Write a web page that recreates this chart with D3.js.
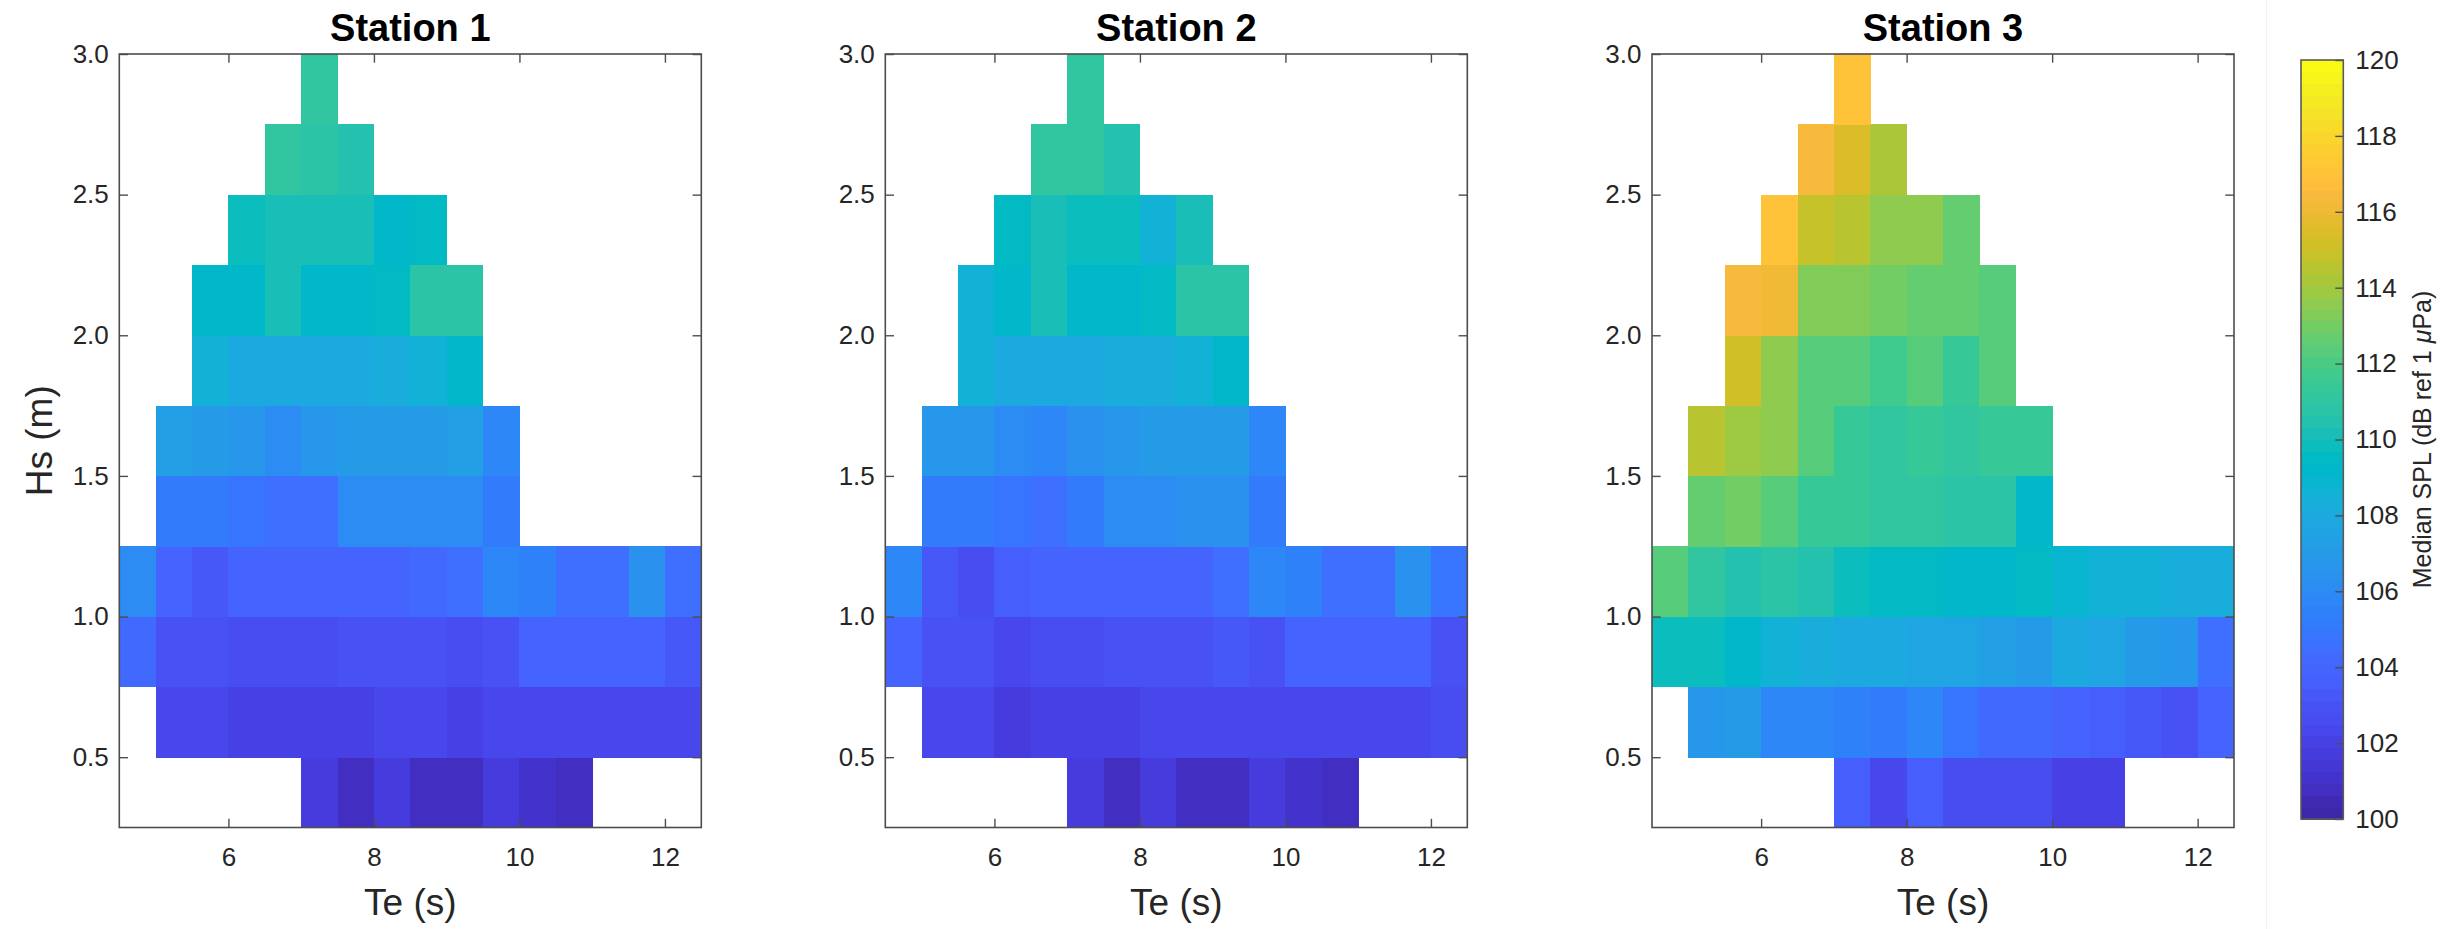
<!DOCTYPE html>
<html>
<head>
<meta charset="utf-8">
<script src="https://cdnjs.cloudflare.com/ajax/libs/d3/7.8.5/d3.min.js"></script>
<style>
body { margin: 0; background: #fff; }
text { font-family: "Liberation Sans", Arial, Helvetica, sans-serif; fill: #262626; }
</style>
</head>
<body>
<script>

// Lower edges of the bins
var teBins = [4.5, 5.0, 5.5, 6.0, 6.5, 7.0, 7.5, 8.0, 8.5, 9.0, 9.5, 10.0, 10.5, 11.0, 11.5, 12.0];
var hsBins = [0.25, 0.5, 0.75, 1.0, 1.25, 1.5, 1.75, 2.0, 2.25, 2.5, 2.75];
var teStep = 0.5;
var hsStep = 0.25;

var teTicks = [6, 8, 10, 12];
var hsTicks = [0.5, 1.0, 1.5, 2.0, 2.5, 3.0];
var cbTicks = [100, 102, 104, 106, 108, 110, 112, 114, 116, 118, 120];

var titles = ["Station 1", "Station 2", "Station 3"];

// Median SPL per cell, rows go up in Hs (0.25-0.5 first), columns follow teBins
var station1 = [
    [null, null, null, null, null, 101.6, 100.9, 101.7, 100.8, 100.8, 101.7, 101.2, 100.9, null, null, null],
    [null, 102.2, 102.4, 102.0, 102.0, 102.0, 102.0, 102.3, 102.2, 101.9, 102.2, 102.2, 102.3, 102.3, 102.3, 102.3],
    [104.2, 103.1, 103.1, 102.5, 102.8, 102.8, 102.9, 102.9, 102.9, 102.7, 103.0, 103.8, 103.8, 104.0, 103.8, 103.2],
    [106.0, 103.8, 103.2, 103.8, 103.8, 103.9, 104.0, 104.0, 104.3, 104.6, 105.8, 105.4, 104.6, 104.6, 106.4, 104.4],
    [null, 105.1, 105.2, 104.9, 104.6, 104.6, 106.0, 106.0, 106.1, 106.1, 105.0, null, null, null, null, null],
    [null, 107.2, 107.0, 106.7, 106.1, 106.6, 107.0, 107.0, 107.0, 107.2, 105.8, null, null, null, null, null],
    [null, null, 108.6, 108.0, 108.0, 108.0, 108.0, 108.2, 108.6, 109.1, null, null, null, null, null, null],
    [null, null, 109.1, 109.2, 110.3, 109.2, 109.2, 109.5, 110.8, 110.8, null, null, null, null, null, null],
    [null, null, null, 109.7, 110.3, 110.2, 110.1, 109.2, 109.6, null, null, null, null, null, null, null],
    [null, null, null, null, 111.0, 110.8, 110.4, null, null, null, null, null, null, null, null, null],
    [null, null, null, null, null, 111.0, null, null, null, null, null, null, null, null, null, null]
];

var station2 = [
    [null, null, null, null, null, 101.7, 100.9, 101.8, 100.8, 100.9, 101.8, 101.2, 100.9, null, null, null],
    [null, 102.2, 102.3, 101.8, 102.1, 102.1, 102.0, 102.3, 102.3, 102.2, 102.3, 102.3, 102.3, 102.3, 102.3, 102.6],
    [103.8, 103.0, 103.0, 102.3, 102.7, 102.7, 102.9, 102.9, 103.0, 103.2, 103.1, 103.8, 103.9, 103.9, 103.9, 103.0],
    [105.8, 103.4, 102.8, 103.7, 103.8, 103.8, 104.0, 104.0, 104.0, 104.4, 105.8, 105.5, 104.6, 104.6, 106.4, 104.7],
    [null, 105.1, 105.2, 104.9, 104.4, 105.1, 106.0, 106.0, 106.3, 106.3, 105.0, null, null, null, null, null],
    [null, 106.7, 106.6, 106.1, 105.8, 106.4, 106.8, 107.0, 107.0, 107.0, 105.8, null, null, null, null, null],
    [null, null, 108.6, 108.0, 107.9, 107.9, 108.2, 108.4, 108.6, 109.1, null, null, null, null, null, null],
    [null, null, 108.7, 109.2, 110.0, 109.2, 109.3, 109.4, 110.8, 110.8, null, null, null, null, null, null],
    [null, null, null, 109.6, 110.1, 109.8, 109.8, 108.7, 110.1, null, null, null, null, null, null, null],
    [null, null, null, null, 111.0, 111.0, 110.5, null, null, null, null, null, null, null, null, null],
    [null, null, null, null, null, 111.0, null, null, null, null, null, null, null, null, null, null]
];

var station3 = [
    [null, null, null, null, null, 103.5, 102.3, 103.6, 102.7, 102.5, 102.5, 102.1, 102.1, null, null, null],
    [null, 106.6, 107.1, 105.8, 105.8, 105.6, 105.3, 105.9, 104.9, 104.3, 104.2, 104.0, 103.5, 103.4, 103.1, 104.0],
    [109.8, 109.8, 109.2, 108.6, 108.4, 108.1, 107.9, 107.7, 107.6, 107.3, 107.1, 107.9, 107.5, 107.1, 106.6, 104.5],
    [112.4, 111.0, 110.5, 110.7, 110.5, 109.8, 109.6, 109.4, 109.2, 109.2, 109.4, 108.8, 108.7, 108.5, 108.4, 108.4],
    [null, 112.8, 112.9, 112.2, 111.3, 111.3, 111.2, 111.0, 110.9, 110.9, 109.3, null, null, null, null, null],
    [null, 114.6, 113.9, 113.5, 112.2, 111.3, 111.2, 111.3, 111.2, 111.4, 111.4, null, null, null, null, null],
    [null, null, 115.3, 113.5, 112.3, 112.3, 111.8, 112.2, 111.3, 112.2, null, null, null, null, null, null],
    [null, null, 116.4, 116.2, 113.3, 113.3, 112.9, 112.7, 112.5, 112.4, null, null, null, null, null, null],
    [null, null, null, 116.9, 114.8, 114.6, 113.7, 113.7, 112.5, null, null, null, null, null, null, null],
    [null, null, null, null, 116.3, 115.6, 114.3, null, null, null, null, null, null, null, null, null],
    [null, null, null, null, null, 116.9, null, null, null, null, null, null, null, null, null, null]
];

var stations = [station1, station2, station3];

// MATLAB parula, 64 entries
var parula = [
    [0.2422, 0.1504, 0.6603], [0.2504, 0.1650, 0.7076], [0.2578, 0.1818, 0.7511], [0.2647, 0.1978, 0.7952],
    [0.2706, 0.2147, 0.8364], [0.2751, 0.2342, 0.8710], [0.2783, 0.2559, 0.8991], [0.2803, 0.2782, 0.9221],
    [0.2813, 0.3006, 0.9414], [0.2810, 0.3228, 0.9579], [0.2795, 0.3447, 0.9717], [0.2760, 0.3667, 0.9829],
    [0.2699, 0.3892, 0.9906], [0.2602, 0.4123, 0.9952], [0.2440, 0.4358, 0.9988], [0.2206, 0.4603, 0.9973],
    [0.1963, 0.4847, 0.9892], [0.1834, 0.5074, 0.9798], [0.1786, 0.5289, 0.9682], [0.1764, 0.5499, 0.9520],
    [0.1687, 0.5703, 0.9359], [0.1540, 0.5902, 0.9218], [0.1460, 0.6091, 0.9079], [0.1380, 0.6276, 0.8973],
    [0.1248, 0.6459, 0.8883], [0.1113, 0.6635, 0.8763], [0.0952, 0.6798, 0.8598], [0.0689, 0.6948, 0.8394],
    [0.0297, 0.7082, 0.8163], [0.0036, 0.7203, 0.7917], [0.0067, 0.7312, 0.7660], [0.0433, 0.7411, 0.7394],
    [0.0964, 0.7500, 0.7120], [0.1408, 0.7584, 0.6842], [0.1717, 0.7670, 0.6554], [0.1938, 0.7758, 0.6251],
    [0.2161, 0.7843, 0.5923], [0.2470, 0.7918, 0.5567], [0.2906, 0.7973, 0.5188], [0.3406, 0.8008, 0.4789],
    [0.3909, 0.8029, 0.4354], [0.4456, 0.8024, 0.3909], [0.5044, 0.7993, 0.3480], [0.5616, 0.7942, 0.3045],
    [0.6174, 0.7876, 0.2612], [0.6720, 0.7793, 0.2227], [0.7242, 0.7698, 0.1910], [0.7738, 0.7598, 0.1646],
    [0.8203, 0.7498, 0.1535], [0.8634, 0.7406, 0.1596], [0.9035, 0.7330, 0.1774], [0.9393, 0.7288, 0.2100],
    [0.9728, 0.7298, 0.2394], [0.9956, 0.7434, 0.2371], [0.9970, 0.7659, 0.2199], [0.9952, 0.7893, 0.2028],
    [0.9892, 0.8136, 0.1885], [0.9786, 0.8386, 0.1766], [0.9676, 0.8639, 0.1643], [0.9610, 0.8890, 0.1537],
    [0.9597, 0.9135, 0.1423], [0.9628, 0.9373, 0.1265], [0.9691, 0.9606, 0.1064], [0.9769, 0.9839, 0.0805]
];

d3.select(window).on('load', init);

function init()
{

    var w = 2458;
    var h = 929;

    var panelLeft = [119.3, 885.3, 1652];
    var panelW = 582;
    var top = 54;
    var bottom = 827.5;
    var tickLen = 8.7;

    var svg = d3.select("body")
        .append("svg")
        .attr("width", w)
        .attr("height", h);

    // faint strip behind the colorbar, as in the exported figure
    svg.append("line")
        .attr("x1", 2266.5).attr("x2", 2266.5)
        .attr("y1", 0).attr("y2", h)
        .attr("stroke", "#f1f1f1");

    var colors = parula.map(function(c) {
        return d3.rgb(c[0] * 255, c[1] * 255, c[2] * 255).formatHex();
    });

    var color = d3.scaleQuantize()
        .domain([100, 120])
        .range(colors);

    var yScale = d3.scaleLinear()
        .domain([0.25, 3.0])
        .range([bottom, top]);


    stations.forEach(function(data, p)
    {

        var x0 = panelLeft[p];

        var xScale = d3.scaleLinear()
            .domain([4.5, 12.5])
            .range([x0, x0 + panelW]);

        var g = svg.append("g");

        // flatten into cells
        var cells = [];
        data.forEach(function(row, r) {
            row.forEach(function(v, c) {
                if (v !== null) {
                    cells.push({te: teBins[c], hs: hsBins[r], v: v});
                }
            });
        });

        g.selectAll("rect.cell")
            .data(cells)
            .enter()
            .append("rect")
            .attr("class", "cell")
            .attr("x", function(d) { return xScale(d.te); })
            .attr("y", function(d) { return yScale(d.hs + hsStep); })
            .attr("width", function(d) { return xScale(d.te + teStep) - xScale(d.te) + 0.4; })
            .attr("height", function(d) { return yScale(d.hs) - yScale(d.hs + hsStep) + 0.4; })
            .attr("fill", function(d) { return color(d.v); })
            .attr("shape-rendering", "crispEdges");

        // axes, ticks pointing inwards on all four sides
        var bottomAxis = g.append("g")
            .attr("transform", "translate(0," + bottom + ")")
            .call(d3.axisBottom(xScale)
                .tickValues(teTicks)
                .tickFormat(d3.format("d"))
                .tickSizeInner(-tickLen)
                .tickSizeOuter(0)
                .tickPadding(20));

        var topAxis = g.append("g")
            .attr("transform", "translate(0," + top + ")")
            .call(d3.axisTop(xScale)
                .tickValues(teTicks)
                .tickFormat("")
                .tickSizeInner(-tickLen)
                .tickSizeOuter(0));

        var leftAxis = g.append("g")
            .attr("transform", "translate(" + x0 + ",0)")
            .call(d3.axisLeft(yScale)
                .tickValues(hsTicks)
                .tickFormat(d3.format(".1f"))
                .tickSizeInner(-tickLen)
                .tickSizeOuter(0)
                .tickPadding(10.5));

        var rightAxis = g.append("g")
            .attr("transform", "translate(" + (x0 + panelW) + ",0)")
            .call(d3.axisRight(yScale)
                .tickValues(hsTicks)
                .tickFormat("")
                .tickSizeInner(-tickLen)
                .tickSizeOuter(0));

        g.selectAll(".domain").remove();

        g.selectAll(".tick line")
            .attr("stroke", "#4d4d4d")
            .attr("stroke-width", 1.4);

        g.selectAll(".tick text")
            .attr("fill", "#262626")
            .style("font-size", "26px")
            .style("font-family", "'Liberation Sans', Arial, sans-serif");

        // box
        g.append("rect")
            .attr("x", x0)
            .attr("y", top)
            .attr("width", panelW)
            .attr("height", bottom - top)
            .attr("fill", "none")
            .attr("stroke", "#4d4d4d")
            .attr("stroke-width", 1.6);

        // title
        g.append("text")
            .attr("x", x0 + panelW / 2)
            .attr("y", 41)
            .attr("text-anchor", "middle")
            .style("font-size", "38px")
            .style("font-weight", "bold")
            .style("fill", "#000")
            .text(titles[p]);

        // x label
        g.append("text")
            .attr("x", x0 + panelW / 2)
            .attr("y", 915)
            .attr("text-anchor", "middle")
            .style("font-size", "37px")
            .text("Te (s)");

        if (p === 0) {
            g.append("text")
                .attr("transform", "translate(52," + ((top + bottom) / 2) + ") rotate(-90)")
                .attr("text-anchor", "middle")
                .style("font-size", "37px")
                .text("Hs (m)");
        }

    });


    // Colorbar
    var cbX = 2301;
    var cbW = 42.3;
    var cbTop = 60;
    var cbBottom = 819;

    var cbScale = d3.scaleLinear()
        .domain([100, 120])
        .range([cbBottom, cbTop]);

    var cb = svg.append("g");

    var bandStep = 20 / colors.length;

    cb.selectAll("rect.band")
        .data(colors)
        .enter()
        .append("rect")
        .attr("class", "band")
        .attr("x", cbX)
        .attr("width", cbW)
        .attr("y", function(d, i) { return cbScale(100 + (i + 1) * bandStep); })
        .attr("height", function(d, i) { return cbScale(100 + i * bandStep) - cbScale(100 + (i + 1) * bandStep) + 0.5; })
        .attr("fill", function(d) { return d; })
        .attr("shape-rendering", "crispEdges");

    cb.append("g")
        .attr("transform", "translate(" + (cbX + cbW) + ",0)")
        .call(d3.axisRight(cbScale)
            .tickValues(cbTicks)
            .tickFormat(d3.format("d"))
            .tickSizeInner(-8)
            .tickSizeOuter(0)
            .tickPadding(12));

    cb.selectAll(".domain").remove();

    cb.selectAll(".tick line")
        .attr("stroke", "#4d4d4d")
        .attr("stroke-width", 1.4);

    cb.selectAll(".tick text")
        .attr("fill", "#262626")
        .style("font-size", "26px")
        .style("font-family", "'Liberation Sans', Arial, sans-serif");

    cb.append("rect")
        .attr("x", cbX)
        .attr("y", cbTop)
        .attr("width", cbW)
        .attr("height", cbBottom - cbTop)
        .attr("fill", "none")
        .attr("stroke", "#5a5a5a")
        .attr("stroke-width", 1.6);

    var cbLabel = cb.append("text")
        .attr("transform", "translate(2431," + ((cbTop + cbBottom) / 2) + ") rotate(-90)")
        .attr("text-anchor", "middle")
        .style("font-size", "25px");

    cbLabel.append("tspan").text("Median SPL (dB ref 1 ");
    cbLabel.append("tspan").style("font-style", "italic").text("\u03bc");
    cbLabel.append("tspan").text("Pa)");

}

</script>
</body>
</html>
